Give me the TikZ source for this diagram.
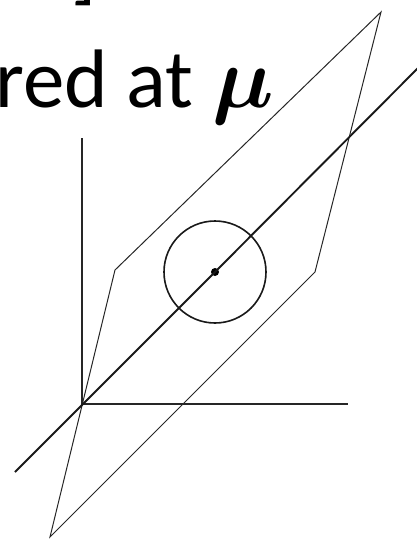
\documentclass[tikz,border=0pt]{standalone}
\usepackage{fix-cm}
\usepackage{fontspec}
\setmainfont{Carlito}
\usepackage{bm}
\begin{document}
\begin{tikzpicture}[x=1pt,y=-1pt,
  thinline/.style={line width=1pt, draw=black!85},
  axisline/.style={line width=1.2pt, draw=black!85},
  mainline/.style={line width=1.9pt, draw=black!90},
  ring/.style={circle, draw=black!90, line width=1.6pt, minimum size=102pt, inner sep=0pt},
  dot/.style={circle, fill=black, minimum size=8pt, inner sep=0pt},
  bigtext/.style={font=\fontsize{83}{95}\selectfont, inner sep=0pt}]
\useasboundingbox (0,0) rectangle (417,539);
\clip (0,0) rectangle (417,539);
% text
\node[bigtext, anchor=base west] (t) at (-5,107) {red at {\fontsize{87}{95}\selectfont$\bm{\mu}$}};
\node[bigtext, anchor=south east] (br) at (97,6) {]};
% axes
\coordinate (o) at (82,404);
\coordinate (ytop) at (82,138);
\coordinate (xend) at (348,404);
\draw[axisline] (ytop) -- (o) -- (xend);
% region
\coordinate (p1) at (381,12);
\coordinate (p2) at (115,270);
\coordinate (p3) at (50,537);
\coordinate (p4) at (315,272);
\draw[thinline, line join=miter] (p1) -- (p2) -- (p3) -- (p4) -- cycle;
% circle and centre
\node[ring] (c) at (215,272) {};
\node[dot] (m) at (215,272) {};
% main line
\coordinate (l1) at (15,472);
\coordinate (l2) at (420,66);
\draw[mainline] (l1) -- (m.center) -- (l2);
\end{tikzpicture}
\end{document}
